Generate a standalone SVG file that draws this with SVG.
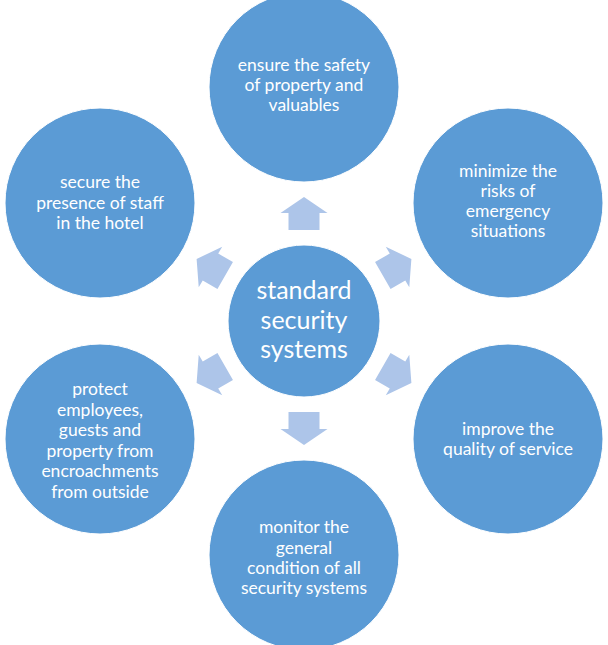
<svg xmlns="http://www.w3.org/2000/svg" width="608" height="645" viewBox="0 0 608 645">
<defs>
<style>
.c{fill:#5b9bd5;stroke:#ffffff;stroke-width:1}
.t{font-family:Lato,"Open Sans","Liberation Sans",sans-serif;font-size:17.5px;fill:#ffffff;text-anchor:middle}
.big{font-size:25px}
.a{fill:#adc5e9}
</style>
<path id="arr" d="M0,-124 L23.5,-108 L15.5,-108 L15.5,-91 L-15.5,-91 L-15.5,-108 L-23.5,-108 Z"/>
</defs>
<rect width="608" height="645" fill="#ffffff"/>
<g id="connectors" class="a" transform="translate(304,321)">
<use href="#arr"/>
<use href="#arr" transform="rotate(60)"/>
<use href="#arr" transform="rotate(120)"/>
<use href="#arr" transform="rotate(180)"/>
<use href="#arr" transform="rotate(240)"/>
<use href="#arr" transform="rotate(300)"/>
</g>
<g id="center">
<circle class="c" cx="304" cy="321" r="76"/>
<text class="t big" x="304" y="299">standard</text>
<text class="t big" x="304" y="329">security</text>
<text class="t big" x="304" y="358">systems</text>
</g>
<g id="top">
<circle class="c" cx="304" cy="87" r="95"/>
<text class="t" x="304" y="71">ensure the safety</text>
<text class="t" x="304" y="91">of property and</text>
<text class="t" x="304" y="111">valuables</text>
</g>
<g id="top-right">
<circle class="c" cx="508" cy="203" r="95"/>
<text class="t" x="508" y="177">minimize the</text>
<text class="t" x="508" y="197">risks of</text>
<text class="t" x="508" y="217">emergency</text>
<text class="t" x="508" y="237">situations</text>
</g>
<g id="bottom-right">
<circle class="c" cx="508" cy="439" r="95"/>
<text class="t" x="508" y="435">improve the</text>
<text class="t" x="508" y="455">quality of service</text>
</g>
<g id="bottom">
<circle class="c" cx="304" cy="555" r="95"/>
<text class="t" x="304" y="533">monitor the</text>
<text class="t" x="304" y="553.5">general</text>
<text class="t" x="304" y="574">condition of all</text>
<text class="t" x="304" y="594">security systems</text>
</g>
<g id="bottom-left">
<circle class="c" cx="100" cy="439" r="95"/>
<text class="t" x="100" y="395">protect</text>
<text class="t" x="100" y="415.5">employees,</text>
<text class="t" x="100" y="436">guests and</text>
<text class="t" x="100" y="456.5">property from</text>
<text class="t" x="100" y="477">encroachments</text>
<text class="t" x="100" y="497.5">from outside</text>
</g>
<g id="top-left">
<circle class="c" cx="100" cy="203" r="95"/>
<text class="t" x="100" y="188">secure the</text>
<text class="t" x="100" y="208.5">presence of staff</text>
<text class="t" x="100" y="229">in the hotel</text>
</g>
</svg>
